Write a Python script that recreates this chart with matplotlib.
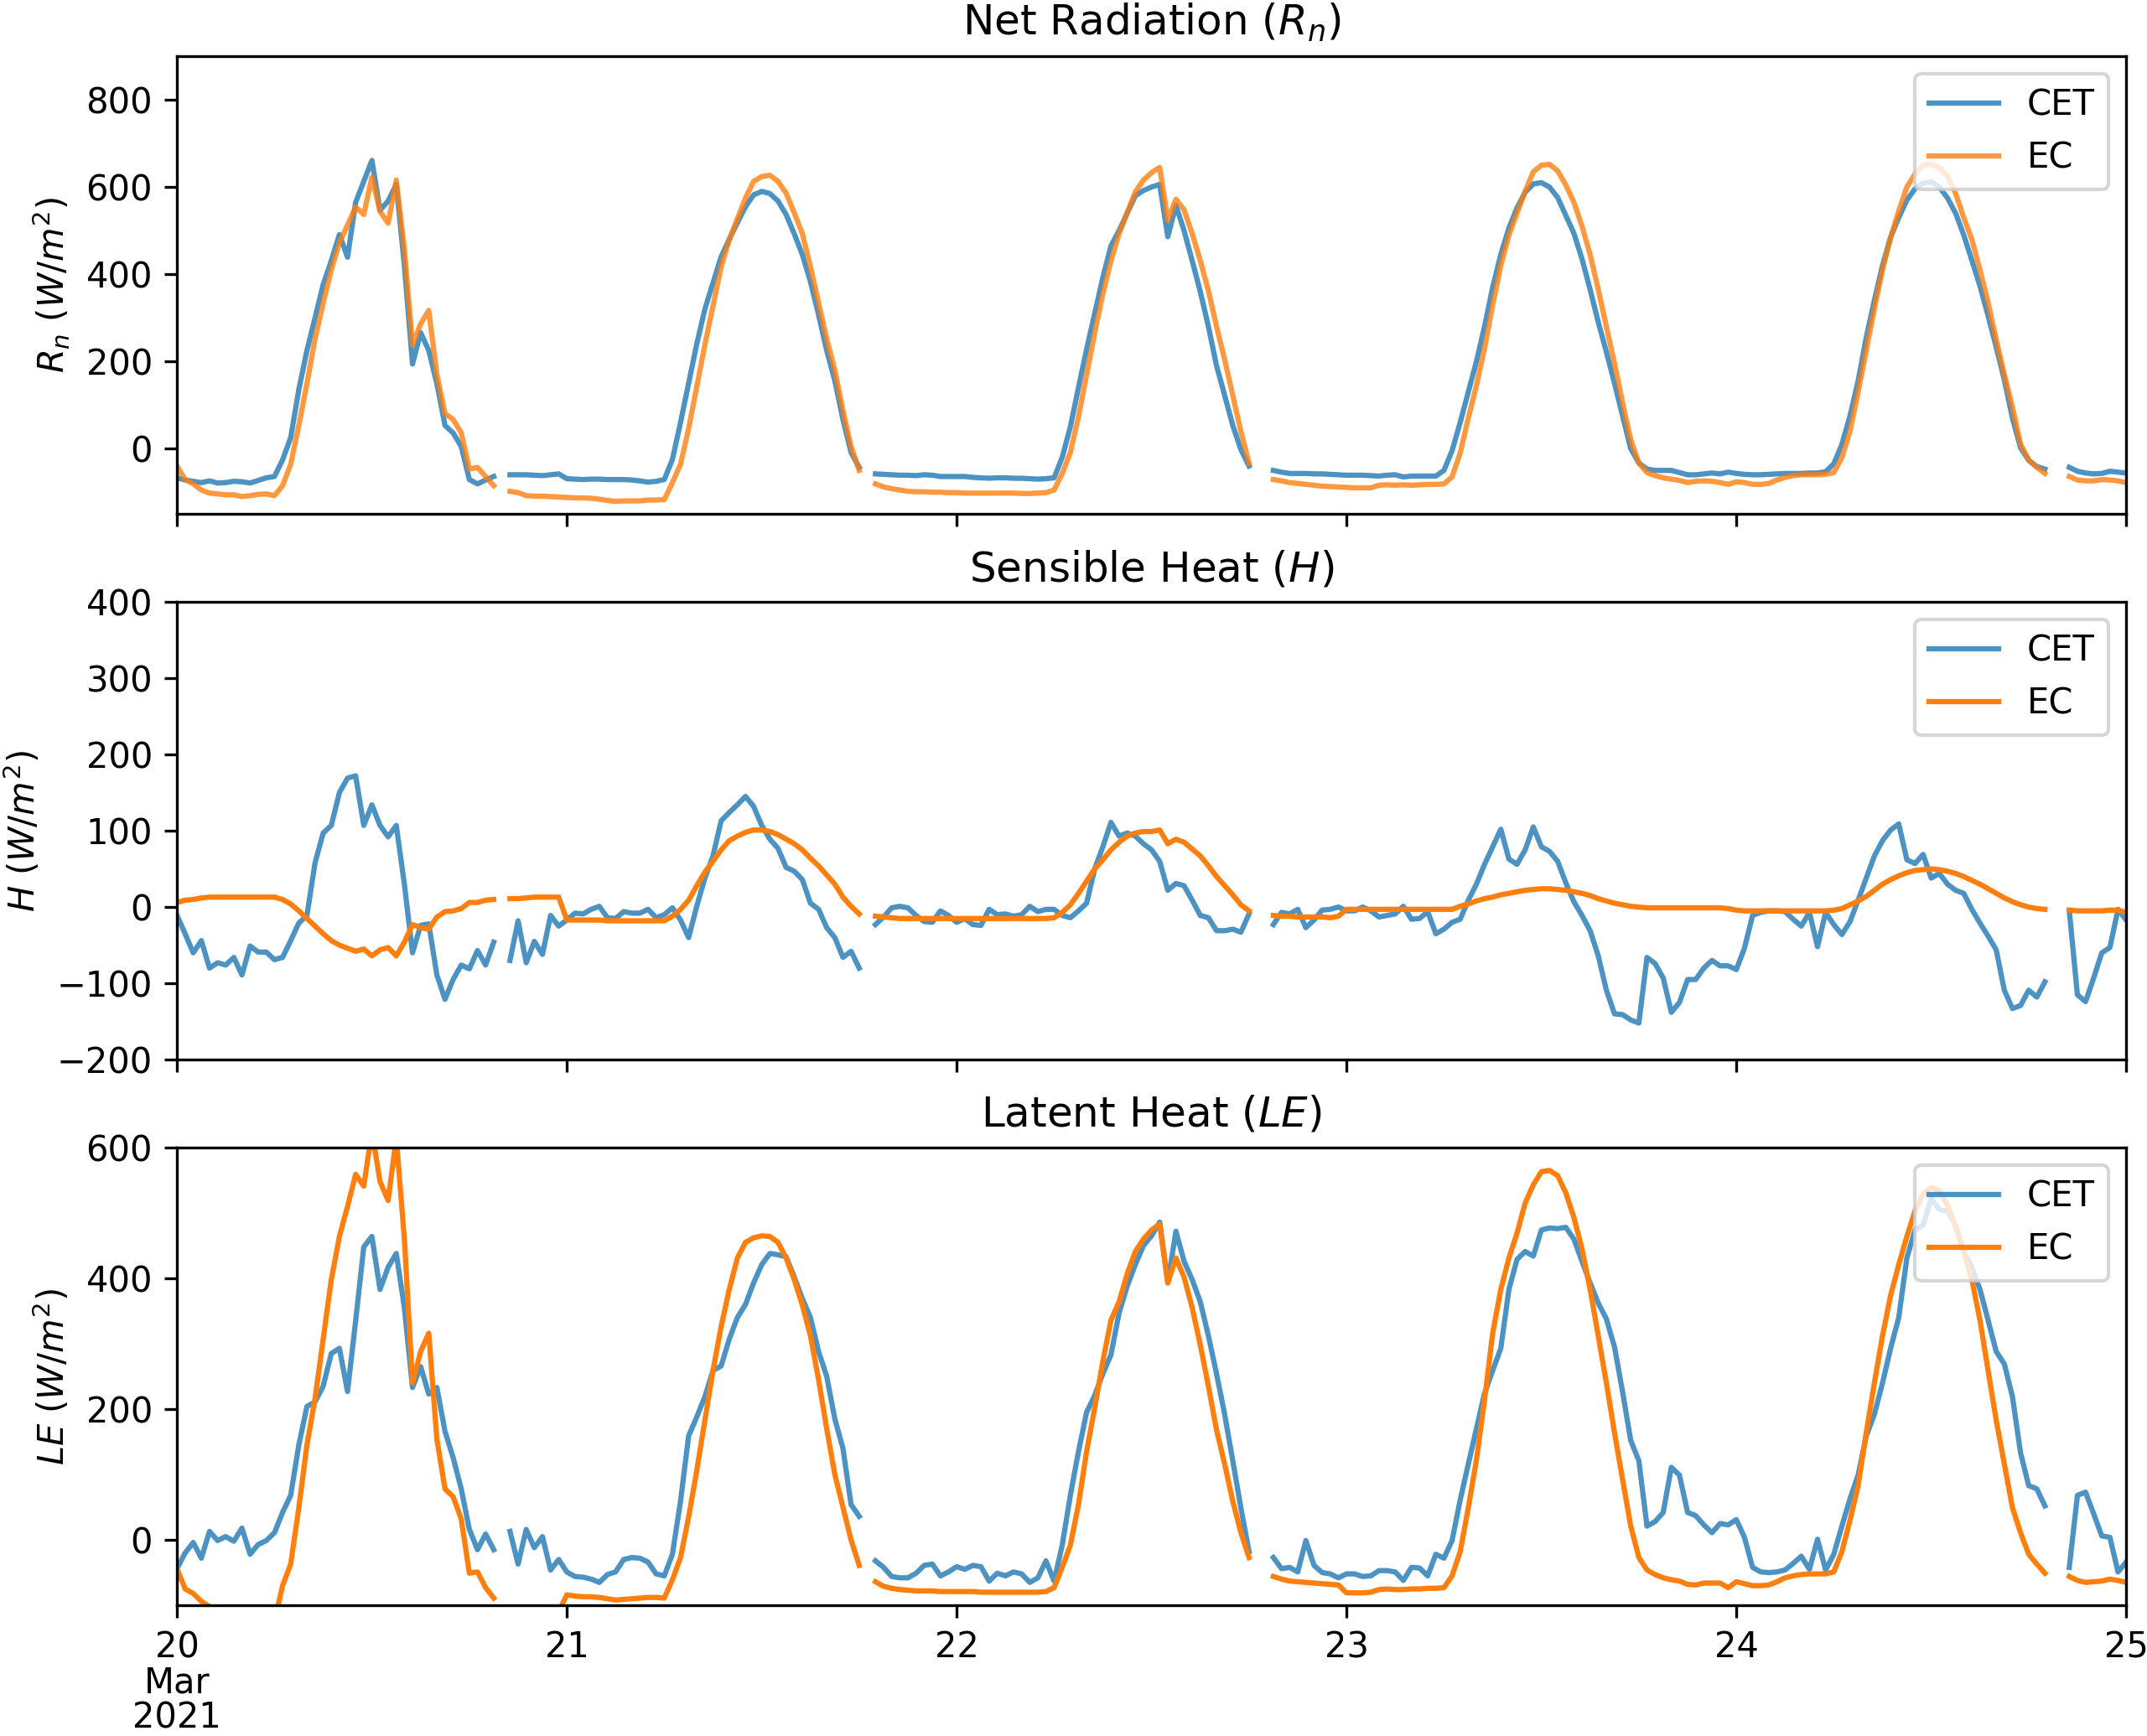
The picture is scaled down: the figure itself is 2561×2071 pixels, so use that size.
import numpy as np
import pandas as pd
import matplotlib
matplotlib.use('Agg')
import matplotlib.pyplot as plt

nan = np.nan

# half-hourly timestamps, 20 Mar 00:00 -> 25 Mar 00:00
times = pd.date_range('2021-03-20 00:00', '2021-03-25 00:00', freq='30min')

# Net radiation (W/m2)
rn_cet = [
    -67, -72, -75, -78, -74, -79, -78, -75, -76, -79, -73, -67,
    -64, -26, 25, 135, 225, 300, 376, 431, 491, 439, 565, 613,
    661, 547, 568, 606, 420, 194, 266, 225, 149, 53, 36, 5,
    -71, -81, -72, -64, nan, -60, -60, -60, -61, -62, -60, -58,
    -69, -70, -71, -70, -70, -71, -71, -71, -72, -74, -77, -75,
    -71, -25, 60, 150, 240, 320, 380, 440, 480, 518, 555, 582,
    590, 585, 568, 537, 493, 445, 383, 307, 225, 156, 67, -9,
    -43, nan, -58, -59, -60, -61, -61, -62, -60, -61, -64, -64,
    -64, -64, -66, -67, -68, -67, -67, -68, -68, -69, -70, -69,
    -67, -20, 50, 140, 228, 310, 392, 465, 500, 540, 580, 592,
    600, 606, 486, 558, 500, 431, 360, 280, 190, 122, 53, -2,
    -40, nan, nan, -50, -54, -57, -57, -57, -58, -58, -59, -60,
    -61, -61, -61, -62, -63, -61, -60, -65, -63, -63, -63, -63,
    -50, -5, 60, 130, 200, 280, 370, 445, 506, 552, 588, 607,
    610, 600, 576, 535, 494, 435, 365, 290, 222, 150, 75, 0,
    -33, -47, -50, -50, -50, -55, -60, -60, -58, -56, -58, -54,
    -57, -59, -60, -60, -59, -58, -57, -57, -57, -56, -56, -53,
    -35, 10, 75, 155, 255, 340, 420, 485, 530, 570, 596, 609,
    612, 600, 575, 540, 490, 432, 373, 305, 233, 158, 70, 2,
    -27, -41, -47, nan, nan, -43, -52, -56, -58, -57, -52, -54, -56,
]
rn_ec = [
    -40, -71, -81, -95, -102, -104, -106, -106, -110, -108, -105, -104,
    -108, -85, -36, 53, 149, 252, 334, 410, 472, 513, 554, 537,
    623, 544, 517, 616, 458, 238, 286, 317, 170, 80, 67, 36,
    -47, -43, -64, -85, nan, -98, -101, -108, -109, -109, -110, -111,
    -112, -113, -113, -114, -116, -119, -121, -120, -120, -120, -118, -118,
    -117, -78, -36, 46, 142, 238, 328, 417, 479, 527, 575, 613,
    624, 627, 613, 586, 541, 493, 417, 334, 252, 180, 87, 5,
    -50, nan, -81, -88, -92, -95, -98, -99, -99, -100, -100, -101,
    -101, -102, -102, -102, -102, -102, -102, -102, -103, -103, -102, -101,
    -95, -57, -9, 73, 170, 266, 355, 431, 493, 541, 589, 616,
    633, 645, 524, 572, 548, 493, 431, 362, 280, 204, 122, 39,
    -33, nan, nan, -71, -74, -78, -80, -82, -84, -86, -87, -88,
    -89, -90, -90, -90, -84, -83, -84, -83, -84, -83, -82, -82,
    -81, -65, -10, 70, 145, 230, 330, 420, 490, 540, 590, 635,
    650, 652, 637, 605, 565, 510, 445, 365, 280, 195, 105, 20,
    -33, -55, -62, -67, -70, -73, -78, -75, -74, -75, -78, -82,
    -76, -78, -82, -82, -80, -72, -66, -62, -60, -60, -60, -59,
    -55, -20, 40, 130, 225, 321, 410, 484, 545, 600, 630, 650,
    652, 645, 625, 585, 530, 480, 410, 335, 250, 170, 95, 10,
    -26, -43, -57, nan, nan, -64, -72, -74, -74, -71, -72, -74, -78,
]

# Sensible heat (W/m2)
h_cet = [
    -11, -35, -60, -44, -80, -73, -76, -66, -89, -51, -59, -59,
    -69, -66, -44, -21, -11, 58, 97, 107, 150, 169, 172, 107,
    134, 107, 92, 107, 30, -60, -24, -22, -89, -121, -95, -76,
    -81, -57, -76, -46, nan, -70, -18, -73, -45, -62, -11, -25,
    -17, -8, -9, -3, 1, -14, -15, -6, -8, -8, -3, -14,
    -10, -1, -17, -40, 1, 38, 67, 113, 124, 134, 145, 132,
    107, 89, 77, 52, 47, 36, 5, -3, -27, -40, -66, -58,
    -80, nan, -23, -13, -1, 1, -1, -11, -19, -20, -5, -11,
    -20, -15, -23, -24, -3, -10, -9, -12, -10, 1, -6, -3,
    -3, -11, -14, -5, 5, 50, 79, 111, 93, 97, 93, 83,
    75, 60, 22, 31, 28, 9, -11, -14, -31, -31, -29, -33,
    -9, nan, nan, -23, -7, -9, -3, -27, -17, -4, -3, 0,
    -5, -5, 0, -5, -13, -11, -9, 1, -16, -15, -6, -35,
    -29, -20, -16, 9, 30, 56, 79, 102, 63, 56, 75, 105,
    79, 73, 60, 32, 7, -11, -31, -64, -109, -140, -141, -148,
    -152, -66, -74, -93, -138, -125, -95, -95, -80, -70, -77, -77,
    -82, -54, -11, -7, -5, -5, -6, -16, -25, -7, -52, -7,
    -23, -36, -19, 9, 38, 67, 87, 101, 109, 62, 57, 69,
    38, 44, 30, 22, 18, -3, -21, -38, -56, -109, -133, -129,
    -109, -118, -98, nan, nan, -5, -115, -124, -93, -60, -53, -3, -17,
]
h_ec = [
    6, 9, 10, 12, 13, 13, 13, 13, 13, 13, 13, 13,
    13, 10, 4, -5, -15, -25, -35, -44, -50, -54, -58, -55,
    -64, -56, -53, -64, -46, -23, -27, -29, -13, -6, -5, -2,
    6, 6, 9, 10, nan, 11, 11, 12, 13, 13, 13, 13,
    -17, -17, -17, -17, -17, -18, -18, -18, -18, -18, -18, -18,
    -18, -12, -3, 9, 28, 46, 60, 75, 87, 93, 98, 101,
    101, 99, 95, 89, 83, 75, 64, 54, 42, 30, 13, 1,
    -9, nan, -12, -13, -14, -15, -15, -15, -15, -15, -15, -15,
    -15, -15, -15, -15, -15, -15, -15, -15, -15, -15, -15, -15,
    -14, -7, 3, 18, 34, 50, 62, 75, 85, 93, 97, 99,
    99, 101, 83, 89, 85, 76, 67, 54, 40, 28, 16, 3,
    -5, nan, nan, -11, -12, -12, -13, -13, -13, -13, -14, -12,
    -3, -3, -3, -3, -3, -3, -3, -3, -3, -3, -3, -3,
    -3, -3, 1, 4, 8, 11, 13, 16, 18, 20, 22, 23,
    24, 24, 23, 22, 20, 18, 15, 11, 8, 5, 3, 1,
    0, -1, -1, -1, -1, -1, -1, -1, -1, -1, -1, -2,
    -4, -5, -5, -5, -5, -5, -5, -5, -5, -5, -5, -5,
    -4, -2, 3, 8, 14, 22, 30, 36, 41, 45, 48, 49,
    50, 49, 47, 44, 40, 35, 30, 24, 18, 12, 7, 3,
    0, -2, -3, nan, nan, -4, -5, -5, -5, -5, -4, -4, -7,
]

# Latent heat (W/m2)
le_cet = [
    -44, -20, -4, -28, 13, -1, 5, -2, 18, -22, -7, -1,
    11, 42, 68, 145, 204, 211, 235, 285, 293, 227, 335, 448,
    464, 383, 417, 438, 355, 233, 265, 223, 233, 166, 126, 78,
    16, -15, 9, -15, nan, 13, -37, 16, -12, 5, -46, -30,
    -49, -56, -57, -60, -65, -53, -49, -30, -27, -28, -34, -52,
    -55, -22, 59, 159, 188, 219, 259, 266, 307, 340, 360, 393,
    421, 438, 436, 433, 402, 369, 340, 288, 250, 185, 140, 54,
    36, nan, -32, -42, -56, -58, -58, -51, -39, -37, -55, -49,
    -41, -45, -39, -41, -63, -51, -55, -49, -52, -65, -58, -32,
    -63, -8, 68, 135, 195, 221, 254, 283, 347, 388, 421, 450,
    465, 486, 393, 472, 426, 398, 364, 312, 254, 192, 121, 49,
    -18, nan, nan, -27, -44, -42, -49, -1, -39, -50, -52, -58,
    -52, -52, -56, -55, -47, -47, -49, -62, -42, -43, -55, -22,
    -28, -1, 61, 116, 170, 224, 259, 293, 383, 429, 441, 434,
    474, 477, 476, 478, 460, 426, 393, 362, 338, 295, 226, 152,
    121, 21, 28, 42, 111, 99, 42, 37, 23, 11, 25, 23,
    31, 4, -42, -49, -50, -49, -46, -36, -25, -45, 1, -46,
    -22, 21, 63, 99, 159, 192, 240, 293, 340, 431, 474, 481,
    522, 505, 503, 481, 441, 417, 383, 336, 288, 269, 219, 133,
    83, 78, 52, nan, nan, -42, 68, 73, 40, 6, 4, -49, -34,
]
le_ec = [
    -44, -75, -82, -94, -102, -108, -110, -112, -115, -113, -112, -110,
    -125, -70, -37, 49, 145, 216, 307, 398, 464, 510, 559, 541,
    625, 548, 519, 615, 460, 240, 288, 316, 154, 78, 66, 32,
    -51, -49, -73, -89, nan, -120, -122, -124, -125, -125, -122, -110,
    -84, -86, -87, -87, -88, -90, -92, -91, -90, -89, -88, -88,
    -89, -61, -27, 35, 106, 183, 259, 326, 383, 431, 455, 462,
    465, 464, 455, 431, 398, 359, 312, 245, 170, 100, 50, 0,
    -39, nan, -64, -71, -74, -76, -77, -78, -78, -78, -79, -79,
    -79, -79, -79, -80, -80, -80, -80, -80, -80, -80, -80, -79,
    -73, -42, -8, 54, 135, 202, 273, 336, 364, 407, 441, 460,
    474, 483, 393, 431, 402, 355, 298, 235, 168, 116, 59, 11,
    -27, nan, nan, -56, -60, -63, -64, -65, -66, -67, -68, -69,
    -81, -81, -81, -80, -76, -75, -76, -76, -75, -75, -74, -74,
    -73, -55, -18, 49, 122, 214, 316, 383, 431, 469, 515, 543,
    563, 565, 557, 531, 493, 445, 383, 312, 240, 164, 92, 21,
    -27, -46, -53, -58, -61, -63, -68, -69, -66, -66, -66, -73,
    -64, -67, -70, -70, -69, -64, -58, -55, -53, -52, -52, -52,
    -49, -18, 30, 83, 164, 240, 312, 374, 421, 464, 503, 529,
    539, 534, 512, 479, 441, 398, 336, 259, 183, 116, 49, 11,
    -22, -37, -51, nan, nan, -56, -62, -65, -64, -63, -60, -62, -65,
]

day_ticks = pd.date_range('2021-03-20', '2021-03-25', freq='D')
day_labels = ['20\nMar\n2021', '21', '22', '23', '24', '25']

fig, axes = plt.subplots(3, 1, sharex=True, figsize=(2562 / 300, 2071 / 300), dpi=300)
fig.subplots_adjust(left=0.0824, right=0.9899, top=0.9676, bottom=0.0753, hspace=0.192)

panels = [
    (rn_cet, rn_ec, 0.8, 'Net Radiation ($R_n$)', '$R_n$ ($W/m^2$)', (-150, 900)),
    (h_cet, h_ec, 1.0, 'Sensible Heat ($H$)', '$H$ ($W/m^2$)', (-200, 400)),
    (le_cet, le_ec, 1.0, 'Latent Heat ($LE$)', '$LE$ ($W/m^2$)', (-100, 600)),
]

for ax, (cet, ec, ec_alpha, title, ylab, ylim) in zip(axes, panels):
    ax.plot(times, cet, color='tab:blue', alpha=0.8, label='CET')
    ax.plot(times, ec, color='tab:orange', alpha=ec_alpha, label='EC')
    ax.set_title(title)
    ax.set_ylabel(ylab)
    ax.set_ylim(*ylim)
    ax.legend(loc='upper right')

axes[-1].set_xlim(times[0], times[-1])
axes[-1].set_xticks(day_ticks)
axes[-1].set_xticklabels(day_labels)
axes[-1].minorticks_off()
for lbl in axes[-1].get_xticklabels():
    lbl.set_linespacing(1.0)

fig.savefig('out.png', dpi=300)
